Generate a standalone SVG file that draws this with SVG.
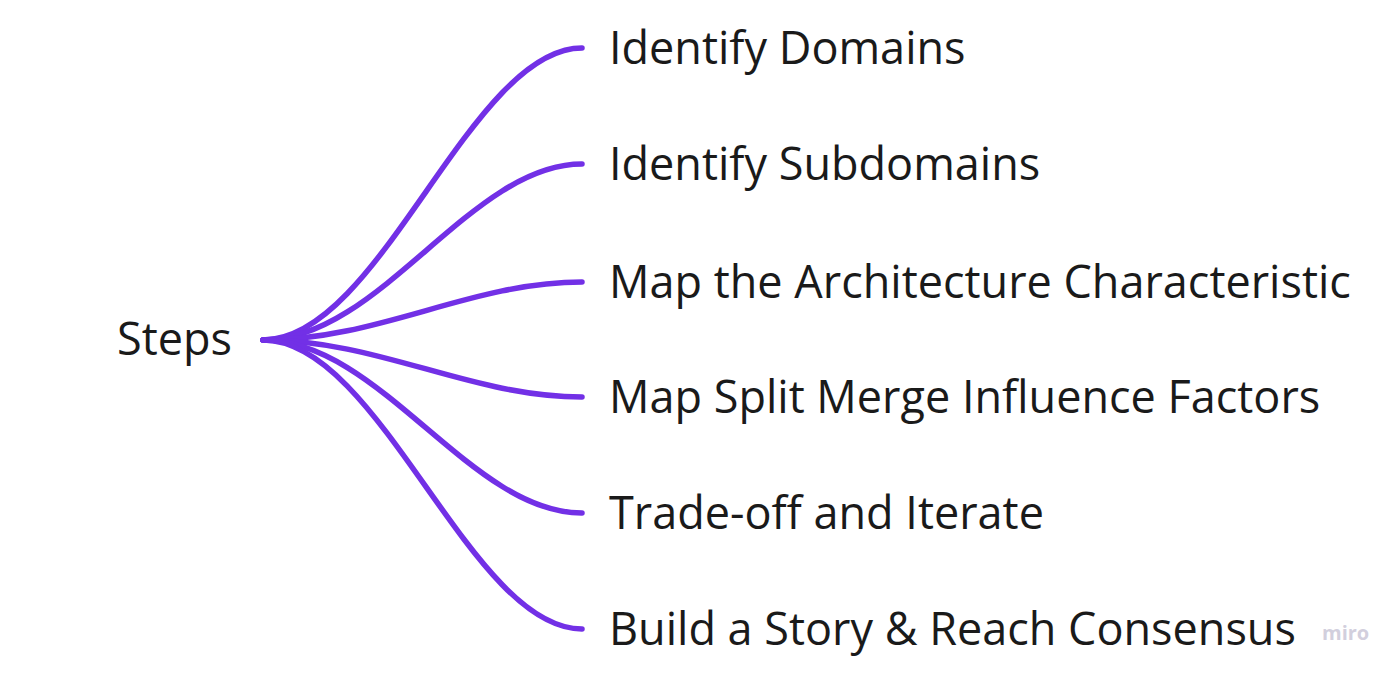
<svg xmlns="http://www.w3.org/2000/svg" width="1400" height="673" viewBox="0 0 1400 673">
<style>
.t{font-family:"Open Sans","Noto Sans",sans-serif;font-size:45px;fill:#1a1a1a}
.c{fill:none;stroke:#7230e6;stroke-width:5.5;stroke-linecap:round}
.w{font-family:"Open Sans",sans-serif;font-size:20px;font-weight:700;fill:#d2cfdd}
</style>
<rect width="1400" height="673" fill="#ffffff"/>
<g id="connectors">
<path class="c" d="M263 340 C380 340 470 48 582 48"/>
<path class="c" d="M263 340 C380 340 470 164 582 164"/>
<path class="c" d="M263 340 C380 340 470 282 582 282"/>
<path class="c" d="M263 340 C380 340 470 397 582 397"/>
<path class="c" d="M263 340 C380 340 470 513 582 513"/>
<path class="c" d="M263 340 C380 340 470 629 582 629"/>
</g>
<g id="root"><text class="t" x="117" y="355">Steps</text></g>
<g id="n1"><text class="t" x="609" y="64">Identify Domains</text></g>
<g id="n2"><text class="t" x="609" y="180">Identify Subdomains</text></g>
<g id="n3"><text class="t" x="609" y="298">Map the Architecture Characteristic</text></g>
<g id="n4"><text class="t" x="609" y="413">Map Split Merge Influence Factors</text></g>
<g id="n5"><text class="t" x="609" y="529">Trade-off and Iterate</text></g>
<g id="n6"><text class="t" x="609" y="645">Build a Story &amp; Reach Consensus</text></g>
<g id="watermark"><text class="w" x="1322" y="640">miro</text></g>
</svg>
